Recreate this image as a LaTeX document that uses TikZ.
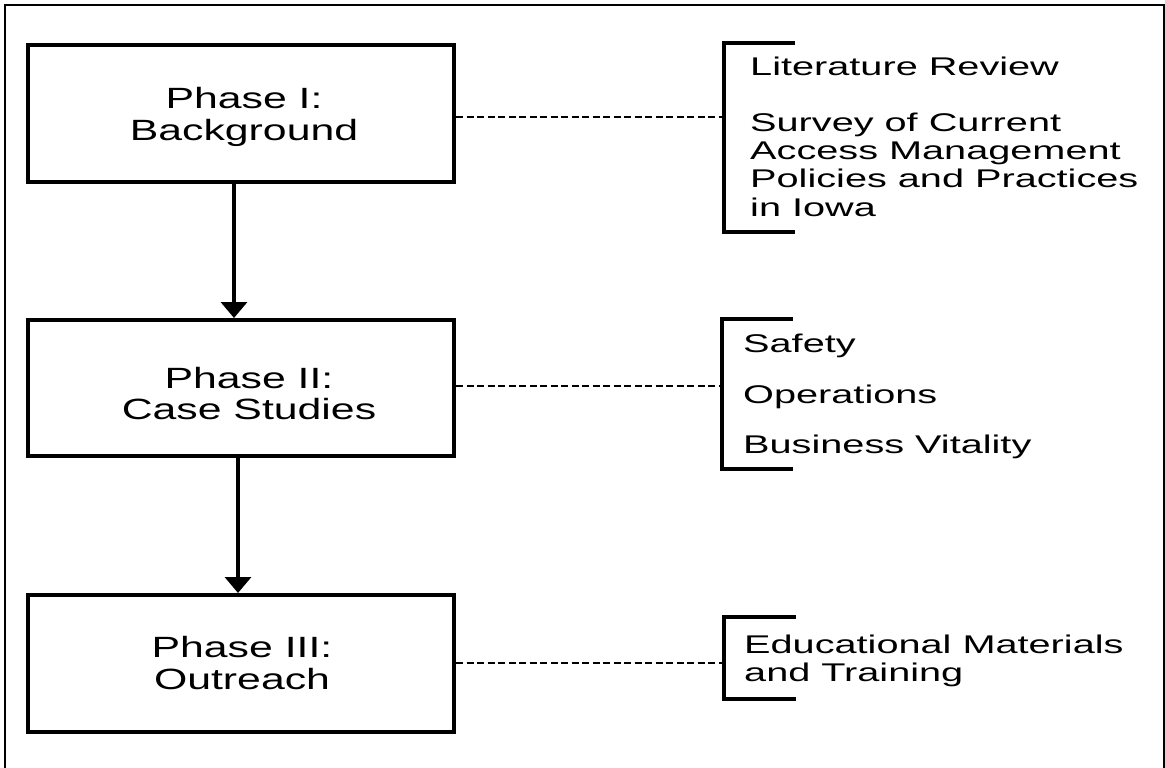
\documentclass[tikz,border=0pt]{standalone}
\usepackage{fontspec}
\usetikzlibrary{arrows.meta}
\newfontfamily\boxfont[FakeStretch=1.46]{Liberation Sans}
\newfontfamily\itemfont[FakeStretch=1.55]{Liberation Sans}
\tikzset{
  frameline/.style={line width=2.6pt, line cap=rect},
  phasebox/.style={draw, line width=4pt, minimum width=426pt, inner sep=0pt, fill=white},
  phasetext/.style={inner sep=0pt, anchor=base, font=\boxfont\fontsize{29.3}{31.4}\selectfont},
  itemtext/.style={inner sep=0pt, anchor=base west, font=\itemfont\fontsize{25.6}{28.4}\selectfont},
  flowarrow/.style={line width=3.5pt, -{Triangle[width=26pt,length=16pt]}},
  dashline/.style={line width=2.6pt, dash pattern=on 7pt off 3.5pt},
  bracketline/.style={line width=3.2pt, line join=miter}
}
\begin{document}
\begin{tikzpicture}[x=1pt, y=-1pt]
\useasboundingbox (0,0) rectangle (1165,768);
% outer frame
\draw[frameline] (5,768) -- (5,5) -- (1164,5) -- (1164,768);

% phase boxes
\node[phasebox, minimum height=137pt] (p1) at (241,113.5) {};
\node[phasebox, minimum height=136pt] (p2) at (241,388) {};
\node[phasebox, minimum height=137pt] (p3) at (241,663.5) {};

\node[phasetext] (t1) at (244,108.7) {\begin{tabular}[t]{@{}c@{}}Phase I:\\ Background\end{tabular}};
\node[phasetext] (t2) at (249,388) {\begin{tabular}[t]{@{}c@{}}Phase II:\\ Case Studies\end{tabular}};
\node[phasetext] (t3) at (242,657.7) {\begin{tabular}[t]{@{}c@{}}Phase III:\\ Outreach\end{tabular}};

% flow arrows
\draw[flowarrow] ([xshift=-7pt]p1.south) -- ([xshift=-7pt]p2.north);
\draw[flowarrow] ([xshift=-3pt]p2.south) -- ([xshift=-3pt]p3.north);

% brackets
\coordinate (b1t) at (795,43);
\coordinate (b1a) at (724,43);
\coordinate (b1j) at (724,117);
\coordinate (b1b) at (724,232);
\coordinate (b1e) at (795,232);
\draw[bracketline] (b1t) -- (b1a) -- (b1b) -- (b1e);

\coordinate (b2t) at (793,319);
\coordinate (b2a) at (722,319);
\coordinate (b2j) at (722,386);
\coordinate (b2b) at (722,469);
\coordinate (b2e) at (793,469);
\draw[bracketline] (b2t) -- (b2a) -- (b2b) -- (b2e);

\coordinate (b3t) at (796,617);
\coordinate (b3a) at (724,617);
\coordinate (b3j) at (724,663);
\coordinate (b3b) at (724,699);
\coordinate (b3e) at (796,699);
\draw[bracketline] (b3t) -- (b3a) -- (b3b) -- (b3e);

% dashed links
\draw[dashline] (p1.east |- b1j) -- (b1j);
\draw[dashline] (p2.east |- b2j) -- (b2j);
\draw[dashline] (p3.east |- b3j) -- (b3j);

% item texts
\node[itemtext] (i1) at (750,75) {Literature Review};
\node[itemtext] (i2) at (750,131) {\begin{tabular}[t]{@{}l@{}}Survey of Current\\ Access Management\\ Policies and Practices\\ in Iowa\end{tabular}};
\node[itemtext] (i3) at (743,352.7) {Safety};
\node[itemtext] (i4) at (743,403) {Operations};
\node[itemtext] (i5) at (743,453) {Business Vitality};
\node[itemtext] (i6) at (744,653) {\begin{tabular}[t]{@{}l@{}}Educational Materials\\ and Training\end{tabular}};
\end{tikzpicture}
\end{document}
